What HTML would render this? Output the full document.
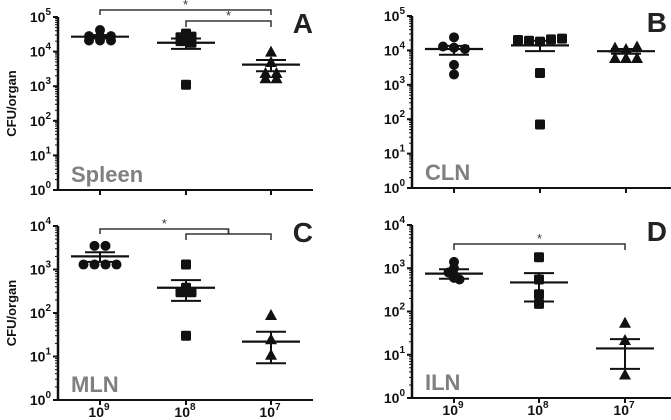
<!DOCTYPE html>
<html><head><meta charset="utf-8">
<style>
body{margin:0;background:#fff;}
svg{display:block;font-family:"Liberation Sans",Arial,sans-serif;}
</style></head>
<body>
<svg id="fig" width="671" height="420" viewBox="0 0 671 420" xmlns="http://www.w3.org/2000/svg"></svg>
<script>
const categories = ["9","8","7"];
const panelNames = ["A","B","C","D"];
const organs = ["Spleen","CLN","MLN","ILN"];
const yMaxExp = [5,5,4,4];
const markers = ["circle","square","triangle"];
// CFU values per panel per group
const valsA = [[28000,28000,28000,21000,21000,21000,42000],[33000,26000,27000,20000,18000,1100],[10000,5000,2400,2400,1700,1700]];
const valsB = [[24000,13000,12000,11000,3800,2000],[20000,19000,18000,21000,22000,2200,70],[12000,11000,13000,6000,6000,6000]];
const valsC = [[3500,3500,1300,1300,1300,1300],[1300,380,300,300,30],[90,25,11]];
const valsD = [[1400,1000,800,700,600,550],[1800,550,250,150],[55,22,3.5]];
const meansA=[27000,18000,4200], loA=[24000,12000,2700], hiA=[30000,24000,5700];
const meansB=[11000,14000,9500], loB=[7500,9500,8000], hiB=[13500,19000,11000];
const meansC=[2000,380,22], loC=[1500,190,7], hiC=[2500,570,37];
const meansD=[750,470,14], loD=[570,170,4.7], hiD=[950,770,23];
const allVals=[valsA,valsB,valsC,valsD], allMeans=[meansA,meansB,meansC,meansD], allLo=[loA,loB,loC,loD], allHi=[hiA,hiB,hiC,hiD];

const NS="http://www.w3.org/2000/svg";
const svg=document.getElementById('fig');
function mk(tag,attrs,parent){const e=document.createElementNS(NS,tag);for(const k in attrs)e.setAttribute(k,attrs[k]);(parent||svg).appendChild(e);return e;}

const layouts=[
 {ax:58,top:17,bot:190,cx:[100,186,271],xend:313},
 {ax:412,top:16,bot:188,cx:[454,540,626],xend:671},
 {ax:58,top:226,bot:400,cx:[100,186,271],xend:313},
 {ax:412,top:225,bot:398,cx:[454,539,625],xend:671}
];

layouts.forEach((L,p)=>{
  const g=mk('g',{});
  
  
  const emax=yMaxExp[p];
  const y=v=>L.bot-(Math.log10(v)/emax)*(L.bot-L.top);
  const ya=mk('line',{x1:L.ax,y1:L.top,x2:L.ax,y2:L.bot+1,stroke:'#111','stroke-width':2.5},g);
  
  const xa=mk('line',{x1:L.ax-1,y1:L.bot,x2:L.xend,y2:L.bot,stroke:'#111','stroke-width':2},g);
  
  for(let e=0;e<=emax;e++){
    const yy=y(Math.pow(10,e));
    mk('line',{x1:L.ax-5,y1:yy,x2:L.ax,y2:yy,stroke:'#111','stroke-width':2},g);
    if(e<emax)for(let m=2;m<10;m++){const ym=y(m*Math.pow(10,e));mk('line',{x1:L.ax-3,y1:ym,x2:L.ax,y2:ym,stroke:'#111','stroke-width':1},g);}
    const t=mk('text',{x:L.ax-7,y:yy+5,'text-anchor':'end','font-size':14,'font-weight':'bold',fill:'#111'},g);
    
    t.innerHTML='10<tspan dy="-7" font-size="10">'+e+'</tspan>';
  }
  L.cx.forEach((cx,i)=>{
    mk('line',{x1:cx,y1:L.bot,x2:cx,y2:L.bot+5,stroke:'#111','stroke-width':2},g);
    if(p>=2){const t=mk('text',{x:cx-1,y:L.bot+17,'text-anchor':'middle','font-size':14,'font-weight':'bold',fill:'#111'},g);
      
      t.innerHTML='10<tspan dy="-7" font-size="10">'+categories[i]+'</tspan>';}
  });
  const ol=mk('text',{x:L.ax+13,y:L.bot-8,'font-size':22,'font-weight':'bold',fill:'#808080'},g);
  ol.textContent=organs[p];
  const pl=mk('text',{x:L.xend-(p%2?4:0),y:L.top+16,'text-anchor':'end','font-size':28,'font-weight':'bold',fill:'#222'},g);
  pl.textContent=panelNames[p];
  if(p%2===0){const yt=mk('text',{transform:`translate(16,${(L.top+L.bot)/2}) rotate(-90)`,'text-anchor':'middle','font-size':13,'font-weight':'bold',fill:'#111'},g);
    yt.textContent='CFU/organ';}
  allVals[p].forEach((vals,gi)=>{
    const cx=L.cx[gi];
    const used=[];
    vals.forEach((v,k)=>{
      const yy=y(v);
      const near=used.filter(u=>Math.abs(u-yy)<3).length;
      used.push(yy);
      const sameCount=vals.filter(w=>Math.abs(y(w)-yy)<3).length;
      const off=(near-(sameCount-1)/2)*11;
      const x=cx+off;let el;
      if(markers[gi]==='circle')el=mk('circle',{cx:x,cy:yy,r:5,fill:'#111'},g);
      else if(markers[gi]==='square')el=mk('rect',{x:x-5,y:yy-5,width:10,height:10,rx:1.5,fill:'#111'},g);
      else el=mk('polygon',{points:`${x},${yy-6} ${x+6},${yy+5} ${x-6},${yy+5}`,fill:'#111'},g);
      
    });
    const ym=y(allMeans[p][gi]),yl=y(allLo[p][gi]),yh=y(allHi[p][gi]);
    const ml=mk('line',{x1:cx-29,y1:ym,x2:cx+29,y2:ym,stroke:'#111','stroke-width':2.2},g);
    
    const eb=mk('path',{d:`M${cx},${yh}V${yl}M${cx-15},${yh}H${cx+15}M${cx-15},${yl}H${cx+15}`,stroke:'#111','stroke-width':2,fill:'none'},g);
    
  });
  function bracket(x1,x2,yb,drop,name){
    const b=mk('path',{d:`M${x1},${yb+drop}V${yb}H${x2}V${yb+drop}`,stroke:'#333','stroke-width':1.5,fill:'none'},g);
    
    const s=mk('text',{x:(x1+x2)/2,y:yb-1,'text-anchor':'middle','font-size':13,fill:'#333'},g);
    s.textContent='*';
  }
  if(p===0){bracket(L.cx[0],L.cx[2],10,5,'bracket-9-vs-7');bracket(L.cx[1],L.cx[2],21,6,'bracket-8-vs-7');}
  if(p===2){
    const mid=(L.cx[1]+L.cx[2])/2;
    bracket(L.cx[0],mid,229,5,'bracket-9-vs-others');
    const b2=mk('path',{d:`M${L.cx[1]},${240}V${234}H${L.cx[2]}V${240}M${mid},${234}V${229}`,stroke:'#333','stroke-width':1.5,fill:'none'},g);
    
  }
  if(p===3){bracket(L.cx[0],L.cx[2],244,6,'bracket-9-vs-7');}
});
</script>
</body></html>
